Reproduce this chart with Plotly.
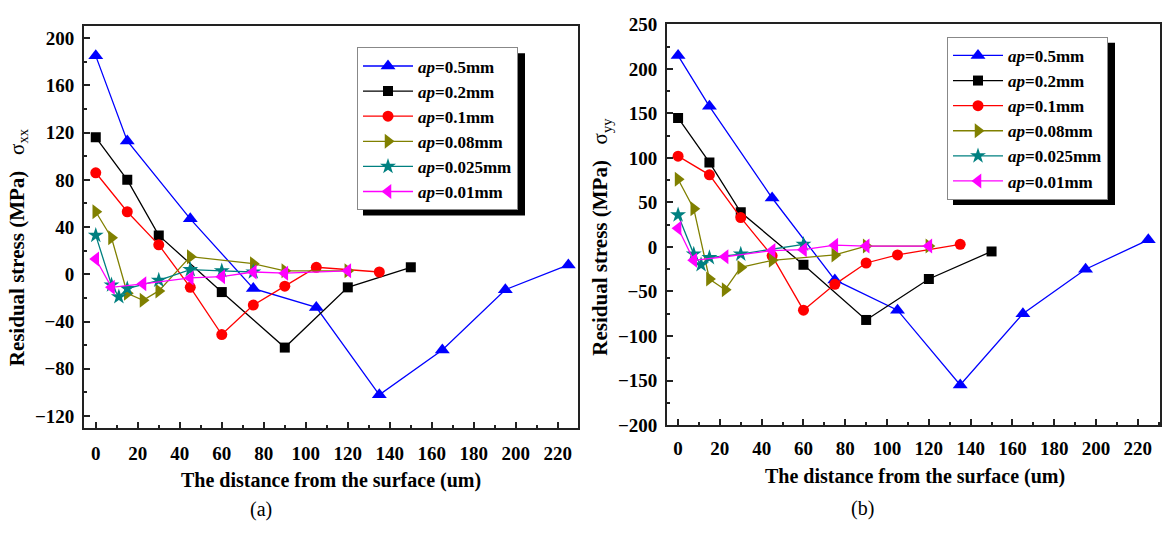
import plotly.graph_objects as go

# ---------------- data : panel (a) sigma_xx ----------------
xa_05 = [0, 15, 45, 75, 105, 135, 165, 195, 225]
ya_05 = [185, 113, 47, -12, -28, -102, -64, -13, 8]
xa_02 = [0, 15, 30, 60, 90, 120, 150]
ya_02 = [116, 80, 33, -15, -62, -11, 6]
xa_01 = [0, 15, 30, 45, 60, 75, 90, 105, 135]
ya_01 = [86, 53, 25, -11, -51, -26, -10, 6, 2]
xa_008 = [0, 7.5, 15, 22.5, 30, 45, 75, 90, 120]
ya_008 = [53, 31, -16, -22, -14, 15, 9, 3, 3]
xa_0025 = [0, 7.5, 11, 15, 30, 45, 60, 75]
ya_0025 = [33, -9, -19, -12, -5, 4, 3, 2]
xa_001 = [0, 7.5, 22.5, 45, 60, 75, 90, 120]
ya_001 = [13, -11, -8, -3, -2, 2, 1, 3]

# ---------------- data : panel (b) sigma_yy ----------------
xb_05 = [0, 15, 45, 75, 105, 135, 165, 195, 225]
yb_05 = [215, 158, 55, -37, -71, -155, -75, -25, 8]
xb_02 = [0, 15, 30, 60, 90, 120, 150]
yb_02 = [145, 95, 39, -20, -82, -36, -5]
xb_01 = [0, 15, 30, 45, 60, 75, 90, 105, 135]
yb_01 = [102, 81, 33, -10, -71, -42, -18, -9, 3]
xb_008 = [0, 7.5, 15, 22.5, 30, 45, 75, 90, 120]
yb_008 = [76, 43, -36, -48, -23, -15, -9, 1, 1]
xb_0025 = [0, 7.5, 11, 15, 30, 60]
yb_0025 = [36, -8, -20, -12, -8, 3]
xb_001 = [0, 7.5, 22.5, 45, 60, 75, 90, 120]
yb_001 = [21, -15, -11, -4, -3, 2, 1, 1]

names = ["0.5mm", "0.2mm", "0.1mm", "0.08mm", "0.025mm", "0.01mm"]
x_ticks = [0, 20, 40, 60, 80, 100, 120, 140, 160, 180, 200, 220]
ya_ticks = [-120, -80, -40, 0, 40, 80, 120, 160, 200]
yb_ticks = [-200, -150, -100, -50, 0, 50, 100, 150, 200, 250]

colors = ["#0000FF", "#000000", "#FF0000", "#808000", "#008080", "#FF00FF"]
symbols = ["triangle-up", "square", "circle", "triangle-right", "star", "triangle-left"]
msizes = [13, 10, 11, 13, 12, 13]

A = [(xa_05, ya_05), (xa_02, ya_02), (xa_01, ya_01), (xa_008, ya_008), (xa_0025, ya_0025), (xa_001, ya_001)]
B = [(xb_05, yb_05), (xb_02, yb_02), (xb_01, yb_01), (xb_008, yb_008), (xb_0025, yb_0025), (xb_001, yb_001)]

W, H = 1162, 534
FONT = "Liberation Serif"

fig = go.Figure()
for i, (x, y) in enumerate(A):
    fig.add_trace(go.Scatter(
        x=x, y=y, mode="lines+markers", name="<i>ap</i>=" + names[i],
        line=dict(color=colors[i], width=1.3),
        marker=dict(symbol=symbols[i], size=msizes[i], color=colors[i]),
        xaxis="x", yaxis="y", legend="legend"))
for i, (x, y) in enumerate(B):
    fig.add_trace(go.Scatter(
        x=x, y=y, mode="lines+markers", name="<i>ap</i>=" + names[i],
        line=dict(color=colors[i], width=1.3),
        marker=dict(symbol=symbols[i], size=msizes[i], color=colors[i]),
        xaxis="x2", yaxis="y2", legend="legend2"))


def px_x(p):
    return p / W


def px_y(p):
    return 1 - p / H


tickfont = dict(family=FONT, size=19, color="black", weight="bold")
axis_common = dict(
    showline=True, linecolor="#222", linewidth=1.8, mirror=True,
    ticks="inside", ticklen=6, tickwidth=1.5, tickcolor="#222",
    showgrid=False, zeroline=False, tickfont=tickfont,
)
minor_x = dict(dtick=10, tick0=0, ticks="inside", ticklen=3, tickcolor="#222")
legfont = dict(family=FONT, size=17, color="black", weight="bold")

# legend boxes (pixel positions of top-left corners) and estimated sizes
LA_L, LA_T = 357, 39
LB_L, LB_T = 947, 28
LEG_W, LEG_H = 162, 169

fig.update_layout(
    width=W, height=H, margin=dict(l=0, r=0, t=0, b=0),
    paper_bgcolor="white", plot_bgcolor="white",
    xaxis=dict(domain=[px_x(84), px_x(578)], range=[-5.6, 229.6], anchor="y",
               tickvals=x_ticks, minor=minor_x, ticklabelstandoff=7, **axis_common),
    yaxis=dict(domain=[px_y(435), px_y(17)], range=[-130, 210], anchor="x",
               tickvals=ya_ticks, minor=dict(dtick=20, tick0=0, ticks="inside", ticklen=3, tickcolor="#222"),
               ticklabelstandoff=4, **axis_common),
    xaxis2=dict(domain=[px_x(667), px_x(1160)], range=[-5.3, 230.6], anchor="y2",
                tickvals=x_ticks, minor=minor_x, ticklabelstandoff=5, **axis_common),
    yaxis2=dict(domain=[px_y(432), px_y(15)], range=[-200, 250], anchor="x2",
                tickvals=yb_ticks, minor=dict(dtick=25, tick0=0, ticks="inside", ticklen=3, tickcolor="#222"),
                ticklabelstandoff=4, **axis_common),
    legend=dict(x=px_x(LA_L), y=px_y(LA_T), xanchor="left", yanchor="top",
                bgcolor="white", bordercolor="#888", borderwidth=1,
                itemwidth=50, font=legfont),
    legend2=dict(x=px_x(LB_L), y=px_y(LB_T), xanchor="left", yanchor="top",
                 bgcolor="white", bordercolor="#888", borderwidth=1,
                 itemwidth=50, font=legfont),
    showlegend=True,
)

# legend drop shadows (drawn beneath the legend boxes)
for L, T in [(LA_L, LA_T), (LB_L, LB_T)]:
    fig.add_shape(type="rect", xref="paper", yref="paper",
                  x0=px_x(L + 6), x1=px_x(L + LEG_W + 6),
                  y0=px_y(T + LEG_H + 6), y1=px_y(T + 6),
                  fillcolor="black", line=dict(width=0), layer="above")

ann_font = dict(family=FONT, size=21, color="black")
fig.add_annotation(xref="paper", yref="paper", x=px_x(18), y=px_y(247),
                   text="<b>Residual stress (MPa)</b>   σ<sub>xx</sub>", textangle=-90,
                   showarrow=False, font=ann_font, xanchor="center", yanchor="middle")
fig.add_annotation(xref="paper", yref="paper", x=px_x(601), y=px_y(236),
                   text="<b>Residual stress (MPa)</b>   σ<sub>yy</sub>", textangle=-90,
                   showarrow=False, font=ann_font, xanchor="center", yanchor="middle")
xt_font = dict(family=FONT, size=20, color="black")
fig.add_annotation(xref="paper", yref="paper", x=px_x(331), y=px_y(490),
                   text="<b>The distance from the surface (um)</b>",
                   showarrow=False, font=xt_font, xanchor="center", yanchor="middle")
fig.add_annotation(xref="paper", yref="paper", x=px_x(915), y=px_y(486),
                   text="<b>The distance from the surface (um)</b>",
                   showarrow=False, font=xt_font, xanchor="center", yanchor="middle")
fig.add_annotation(xref="paper", yref="paper", x=px_x(261), y=px_y(520),
                   text="(a)", showarrow=False, font=dict(family=FONT, size=20, color="black"),
                   xanchor="center", yanchor="middle")
fig.add_annotation(xref="paper", yref="paper", x=px_x(862), y=px_y(519),
                   text="(b)", showarrow=False, font=dict(family=FONT, size=20, color="black"),
                   xanchor="center", yanchor="middle")

fig.write_html("out.html")
